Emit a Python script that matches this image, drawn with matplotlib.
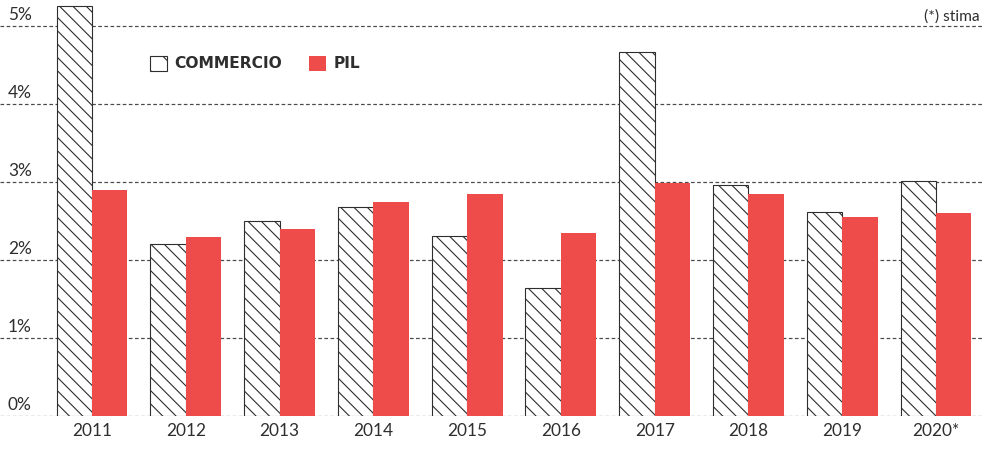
import matplotlib
matplotlib.use('Agg')
from matplotlib import pyplot as plt
from matplotlib.patches import Patch
import numpy as np

years = ['2011', '2012', '2013', '2014', '2015', '2016', '2017', '2018', '2019', '2020*']
commercio = [5.26, 2.21, 2.50, 2.68, 2.31, 1.64, 4.67, 2.96, 2.62, 3.01]
pil = [2.90, 2.29, 2.40, 2.74, 2.85, 2.35, 2.99, 2.85, 2.55, 2.60]
yticks = [0, 1, 2, 3, 4, 5]
ytick_labels = ['0%', '1%', '2%', '3%', '4%', '5%']

red = '#ee4b4b'
dark = '#2e2e2e'
plt.rcParams['font.family'] = ['Lato', 'DejaVu Sans']
plt.rcParams['hatch.linewidth'] = 1.0
plt.rcParams['hatch.color'] = dark

# 984x450 px
fig = plt.figure(figsize=(12.3, 5.625), dpi=80)
ax = fig.add_axes([0, 1 - 416 / 450, 1, 416 / 450])

x = np.arange(len(years))
w = 0.378

#dashed grid behind the bars
for v in yticks:
    ax.axhline(v, color='#4a4a4a', linestyle=(0, (3, 2)), linewidth=1.1, zorder=1)
    ax.annotate(ytick_labels[v], xy=(0.008, v), xycoords=('axes fraction', 'data'),
                xytext=(0, 3), textcoords='offset points', ha='left', va='bottom',
                fontsize=15.5, color=dark)

ax.bar(x - w / 2, commercio, width=w, facecolor='white', edgecolor=dark,
       linewidth=1.0, hatch='\\\\', zorder=2)
ax.bar(x + w / 2, pil, width=w, color=red, linewidth=0, zorder=2)

ax.set_xlim(-0.981, 9.512)
ax.set_ylim(0, 416 / 78)
ax.set_xticks(x)
ax.set_xticklabels(years, fontsize=15.5, color=dark)
ax.tick_params(axis='x', length=0, pad=6)
ax.set_yticks([])
for s in ax.spines.values():
    s.set_visible(False)

ax.annotate('(*) stima', xy=(0.996, 5.0), xycoords=('axes fraction', 'data'),
            xytext=(0, 2), textcoords='offset points',
            ha='right', va='bottom', fontsize=14, color=dark)

handles = [Patch(facecolor='white', edgecolor=dark, hatch='\\', linewidth=1.0),
           Patch(facecolor=red, edgecolor='none')]
leg = ax.legend(handles, ['COMMERCIO', 'PIL'], ncol=2, frameon=False,
                loc='upper left', bbox_to_anchor=(0.152, 0.866),
                handlelength=1.1, handleheight=1.1, handletextpad=0.5,
                columnspacing=1.7, borderpad=0, borderaxespad=0,
                prop={'family': 'DejaVu Sans', 'size': 14, 'weight': 'bold'})
for t in leg.get_texts():
    t.set_color(dark)

fig.savefig('out.png', dpi=80)
